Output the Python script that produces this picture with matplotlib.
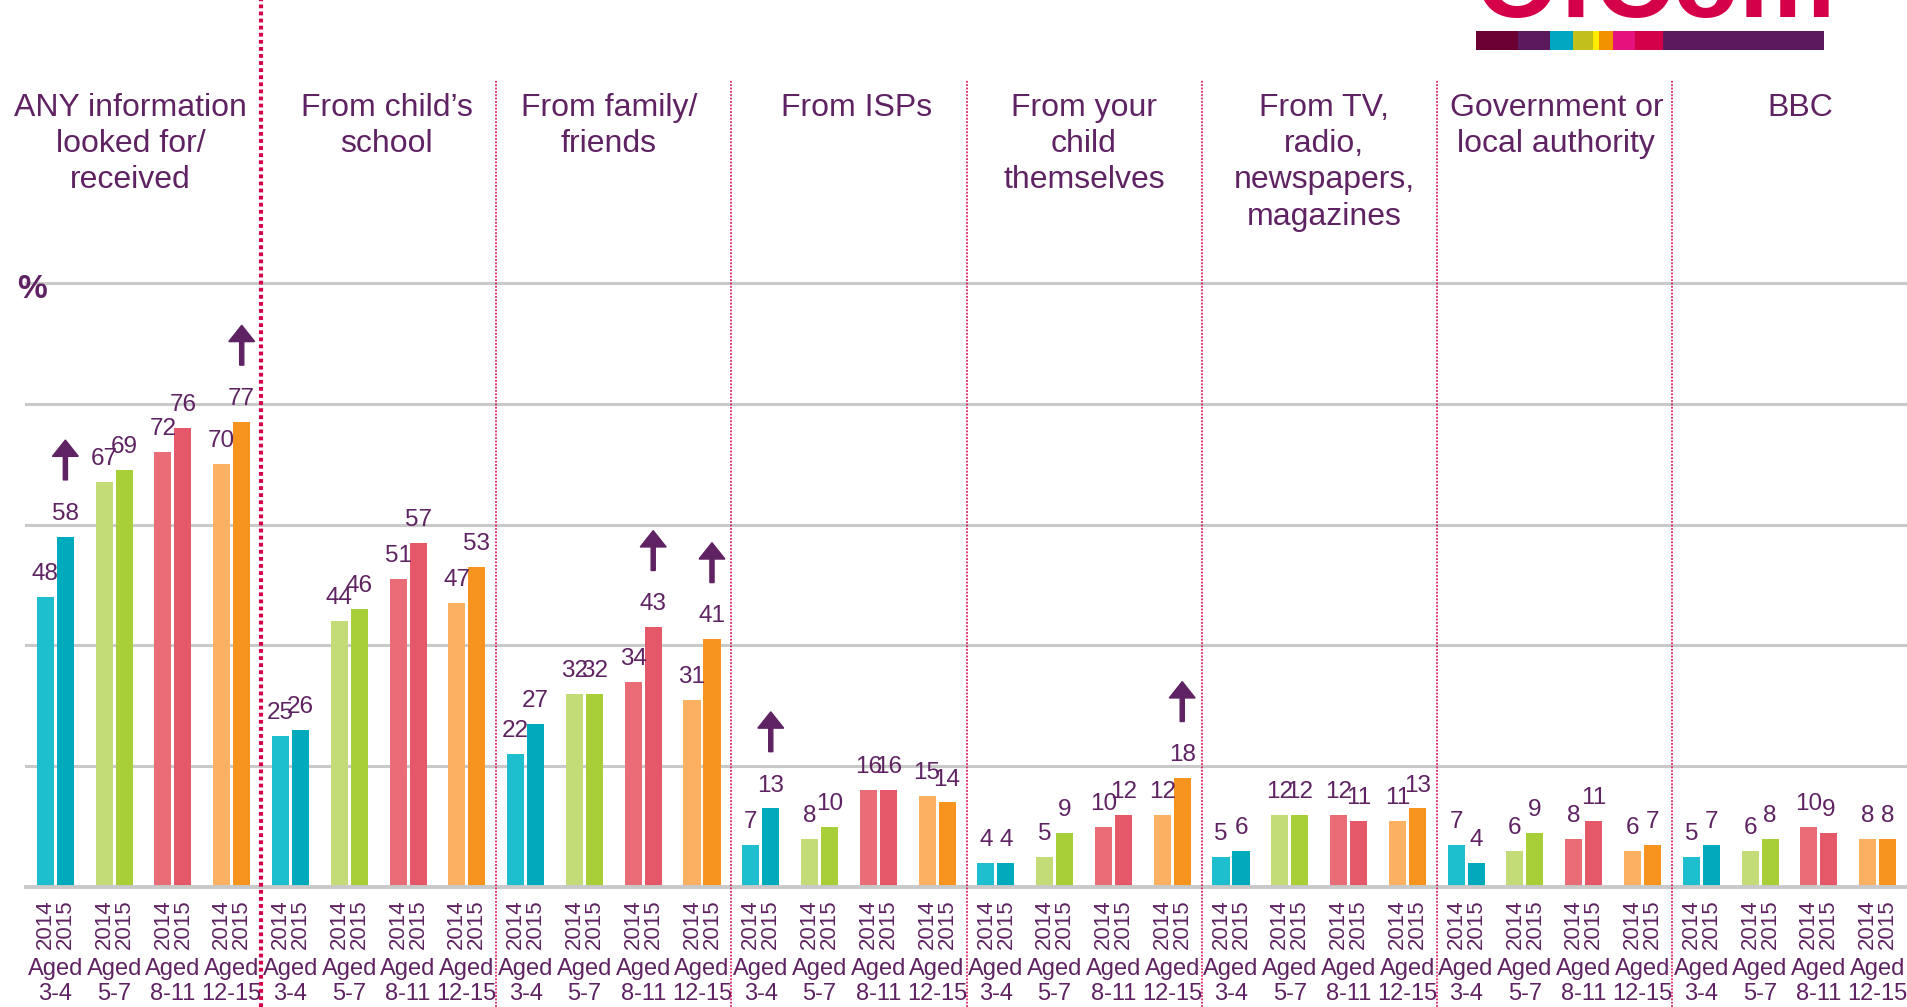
import matplotlib
matplotlib.use("Agg")
import matplotlib.pyplot as plt
from matplotlib.transforms import blended_transform_factory, offset_copy
from matplotlib.patches import Rectangle
import numpy as np

# ---------------- data ----------------
panels = ["ANY information\nlooked for/\nreceived",
          "From child\u2019s\nschool",
          "From family/\nfriends",
          "From ISPs",
          "From your\nchild\nthemselves",
          "From TV,\nradio,\nnewspapers,\nmagazines",
          "Government or\nlocal authority",
          "BBC"]
ages = ["Aged\n3-4", "Aged\n5-7", "Aged\n8-11", "Aged\n12-15"]
years = ["2014", "2015"]
v2014 = [48, 67, 72, 70,
         25, 44, 51, 47,
         22, 32, 34, 31,
         7, 8, 16, 15,
         4, 5, 10, 12,
         5, 12, 12, 11,
         7, 6, 8, 6,
         5, 6, 10, 8]
v2015 = [58, 69, 76, 77,
         26, 46, 57, 53,
         27, 32, 43, 41,
         13, 10, 16, 14,
         4, 9, 12, 18,
         6, 12, 11, 13,
         4, 9, 11, 7,
         7, 8, 9, 8]
# groups where 2015 shows a significant increase (arrow)
up_arrow_2015 = [0, 3, 10, 11, 12, 19]

# ---------------- style ----------------
W, H = 1907, 1007
plt.rcParams['font.family'] = ['Liberation Sans', 'DejaVu Sans']
TXT = '#5F2262'
GRID = '#C9C9C9'
DIV = '#D4004A'
c2014 = ['#1DBFCE', '#C3DC77', '#EA6C77', '#FBB062']
c2015 = ['#00AABD', '#A8CE38', '#E5586A', '#F6941F']
title_dx_px = [-13, 8, -5, 8, 0, 5, 2, 11]   # small horizontal nudges of titles

fig = plt.figure(figsize=(W / 100, H / 100), dpi=100)
fig.patch.set_facecolor('white')

ax_left, ax_right = 26, 1907
ax_bottom, ax_top = 887, 283  # pixel rows (from top) of 0 and 100
ax = fig.add_axes([ax_left / W, 1 - ax_bottom / H, (ax_right - ax_left) / W, (ax_bottom - ax_top) / H])
ax.set_xlim(0, 32)
ax.set_ylim(0, 100)
for s in ax.spines.values():
    s.set_visible(False)
ax.set_yticks([])
px_per_unit = (ax_bottom - ax_top) / 100.0

# gridlines
for g in [20, 40, 60, 80, 100]:
    ax.axhline(g, color=GRID, lw=2.2, zorder=1, clip_on=False)
ax.axhline(0, color=GRID, lw=2.8, zorder=4, clip_on=False)

n = len(v2014)
centers = np.arange(n) + 0.5
off = 0.17
bw = 0.29
x14 = centers - off
x15 = centers + off
cols14 = [c2014[i % 4] for i in range(n)]
cols15 = [c2015[i % 4] for i in range(n)]
ax.bar(x14, v2014, width=bw, color=cols14, zorder=3)
ax.bar(x15, v2015, width=bw, color=cols15, zorder=3)

# value labels
lab_gap = 2.8
for xs, vs in [(x14, v2014), (x15, v2015)]:
    for x, v in zip(xs, vs):
        ax.text(x, v + lab_gap, str(v), ha='center', va='baseline', fontsize=17.5,
                color=TXT, zorder=5)

# arrows
arrow_gap = 9.4
arrow_len = 6.6
for i in up_arrow_2015:
    x = x15[i]
    y0 = v2015[i] + arrow_gap
    ax.arrow(x, y0, 0, arrow_len, width=0.07, head_width=0.44, head_length=2.7,
             length_includes_head=True, color=TXT, zorder=6, clip_on=False)

# year tick labels
ax.set_xticks(np.concatenate([x14, x15]))
ax.set_xticklabels(years[:1] * n + years[1:] * n, rotation=90, fontsize=16, color=TXT)
ax.tick_params(axis='x', length=0, pad=9)

# age labels
tr = blended_transform_factory(ax.transData, ax.transAxes)
for i in range(n):
    ax.text(centers[i], -(958 - ax_bottom) / (ax_bottom - ax_top), ages[i % 4],
            transform=tr, ha='center', va='top', fontsize=17, color=TXT,
            linespacing=1.15, clip_on=False)

# dividers
y_bottom = -(H - ax_bottom) / px_per_unit
y_top_thin = (ax_bottom - 80) / px_per_unit
y_top_thick = ax_bottom / px_per_unit
for k in range(1, len(panels)):
    xb = 4 * k
    if k == 1:
        ax.plot([xb, xb], [y_bottom, y_top_thick], color=DIV, lw=3.0,
                linestyle=(0, (0.9, 0.8)), zorder=7, clip_on=False)
    else:
        ax.plot([xb, xb], [y_bottom, y_top_thin], color=DIV, lw=1.1,
                linestyle=(0, (1.2, 1.0)), zorder=7, clip_on=False)

# panel titles
for k, t in enumerate(panels):
    ttr = offset_copy(ax.transData, fig=fig, x=title_dx_px[k], y=0, units='dots')
    ax.text(4 * k + 2, (ax_bottom - 93) / px_per_unit, t, ha='center', va='top',
            fontsize=23, color=TXT, linespacing=1.27, clip_on=False, transform=ttr)

# percent sign
fig.text(17 / W, 1 - 274 / H, '%', ha='left', va='top', fontsize=24,
         fontweight='bold', color=TXT)

# logo: stripe bar
stripe_edges = [1476, 1518, 1550, 1573, 1593, 1599, 1613, 1635, 1663, 1824]
stripe_cols = ['#6A0032', '#5C1A5E', '#00A7C0', '#C2BE1A', '#FFEC00',
               '#F39200', '#E5127D', '#D5004A', '#5C1A5E']
lax = fig.add_axes([1476 / W, 1 - 50 / H, (1824 - 1476) / W, 19 / H])
lax.set_xlim(1476, 1824)
lax.set_ylim(0, 1)
lax.axis('off')
for a, b, c in zip(stripe_edges[:-1], stripe_edges[1:], stripe_cols):
    lax.add_patch(Rectangle((a, 0), b - a, 1, color=c, lw=0))

# logo: word mark (only its lower part is visible)
tax = fig.add_axes([1470 / W, 1 - 19 / H, 370 / W, 19 / H])
tax.set_xlim(0, 1)
tax.set_ylim(0, 1)
tax.axis('off')
tax.text(0.5, 0.08, 'OfCom', ha='center', va='baseline', fontsize=78,
         fontweight='bold', color='#D5004A', clip_on=True)

fig.savefig('out.png', dpi=100, facecolor='white')
